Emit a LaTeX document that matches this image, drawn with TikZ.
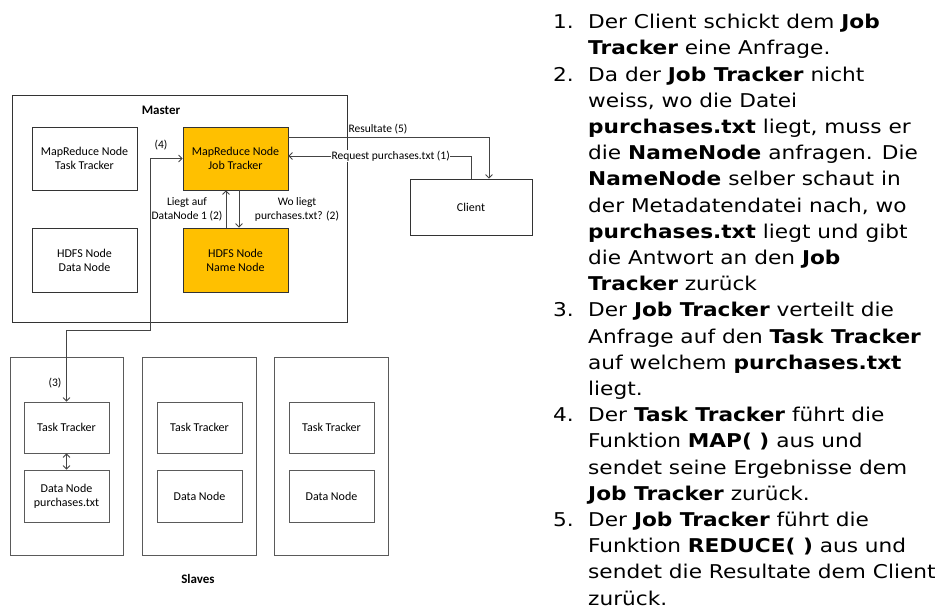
\documentclass[tikz,border=0pt]{standalone}
\usepackage{fontspec}
\newfontfamily\diafont{Carlito}
\newfontfamily\listfont[FakeStretch=1.14]{DejaVu Sans}
\usetikzlibrary{arrows.meta}
\definecolor{orng}{HTML}{FFC000}
\definecolor{edge}{HTML}{333333}
\definecolor{sedge}{HTML}{5A5A5A}
\definecolor{lnk}{HTML}{444444}
\newcommand{\itemno}[1]{\llap{\makebox[35pt][l]{#1}}}
\begin{document}
\begin{tikzpicture}[x=1pt,y=-1pt,
  box/.style={draw=edge, line width=0.8pt, align=center, inner sep=0pt,
    font=\diafont\fontsize{12}{14}\selectfont},
  hot/.style={box, fill=orng},
  slave/.style={draw=sedge, line width=0.8pt, inner sep=0pt},
  sbox/.style={box, draw=sedge},
  lbl/.style={align=center, inner sep=0pt, font=\diafont\fontsize{11.5}{14}\selectfont},
  ttl/.style={inner sep=0pt, font=\diafont\bfseries\fontsize{13}{15}\selectfont},
  arr/.style={draw=lnk, line width=0.8pt, -{Straight Barb[length=3.5pt,width=7pt]}},
  darr/.style={draw=lnk, line width=0.8pt, {Straight Barb[length=3.5pt,width=7pt]}-{Straight Barb[length=3.5pt,width=7pt]}}
]
\useasboundingbox (0,0) rectangle (948,614);
\fill[white] (0,0) rectangle (948,614);

% Master
\node[box, minimum width=335, minimum height=227] (master) at (179.5,208.5) {};
\node[ttl] (mastertitle) at (161,110) {Master};
\node[box, minimum width=105, minimum height=63] (mtt) at (84.5,158.5) {MapReduce Node\\Task Tracker};
\node[box, minimum width=105, minimum height=64] (mdn) at (84.5,260) {HDFS Node\\Data Node};
\node[hot, minimum width=105, minimum height=63] (jt) at (235.5,158.5) {MapReduce Node\\Job Tracker};
\node[hot, minimum width=105, minimum height=64] (nn) at (235.5,260) {HDFS Node\\Name Node};

% Client
\node[box, minimum width=122, minimum height=56] (client) at (471,207) {Client};

% Slaves
\node[slave, minimum width=113, minimum height=198] (s1) at (66.5,456) {};
\node[slave, minimum width=114, minimum height=198] (s2) at (199,456) {};
\node[slave, minimum width=114, minimum height=198] (s3) at (331,456) {};
\node[sbox, minimum width=85, minimum height=51] (tt1) at (66.5,427.5) {Task Tracker};
\node[sbox, minimum width=85, minimum height=52] (dn1) at (66.5,496) {Data Node\\purchases.txt};
\node[sbox, minimum width=85, minimum height=51] (tt2) at (199.5,427.5) {Task Tracker};
\node[sbox, minimum width=85, minimum height=52] (dn2) at (199.5,496) {Data Node};
\node[sbox, minimum width=85, minimum height=51] (tt3) at (331.5,427.5) {Task Tracker};
\node[sbox, minimum width=85, minimum height=52] (dn3) at (331.5,496) {Data Node};
\node[ttl] (slavestitle) at (198,579) {Slaves};

% Connectors
\draw[arr] ([xshift=-9.5pt]nn.north) -- ([xshift=-9.5pt]jt.south);
\draw[arr] ([xshift=3.5pt]jt.south) -- ([xshift=3.5pt]nn.north);
\node[lbl] (lliegt) at (187,209) {Liegt auf\\DataNode 1 (2)};
\node[lbl] (lwo) at (297,209) {Wo liegt\\purchases.txt? (2)};

\draw[arr] ([yshift=21.5pt]jt.east) -| ([xshift=18pt]client.north);
\node[lbl, anchor=base] (lres) at (378,132) {Resultate (5)};
\draw[arr] (client.north) |- node[lbl, fill=white, pos=0.72, inner xsep=0.5pt, inner ysep=1pt] (lreq) {Request purchases.txt (1)} ([yshift=2.5pt]jt.east);

\coordinate (bend) at (150,330);
\draw[darr] (tt1.north) |- (bend) |- (jt.west);
\node[lbl] (l4) at (161,145) {(4)};
\node[lbl] (l3) at (55,383) {(3)};
\draw[darr] (tt1.south) -- (dn1.north);

% Right text
\node[anchor=north west, inner sep=0pt, align=left,
  font=\listfont\fontsize{19}{26.2}\selectfont] (list) at (588,14) {%
\itemno{1.}Der Client schickt dem \textbf{Job}\\
\textbf{Tracker} eine Anfrage.\\
\itemno{2.}Da der \textbf{Job Tracker} nicht\\
weiss, wo die Datei\\
\textbf{purchases.txt} liegt, muss er\\
die \textbf{NameNode} anfragen. Die\\
\textbf{NameNode} selber schaut in\\
der Metadatendatei nach, wo\\
\textbf{purchases.txt} liegt und gibt\\
die Antwort an den \textbf{Job}\\
\textbf{Tracker} zurück\\
\itemno{3.}Der \textbf{Job Tracker} verteilt die\\
Anfrage auf den \textbf{Task Tracker}\\
auf welchem \textbf{purchases.txt}\\
liegt.\\
\itemno{4.}Der \textbf{Task Tracker} führt die\\
Funktion \textbf{MAP( )} aus und\\
sendet seine Ergebnisse dem\\
\textbf{Job Tracker} zurück.\\
\itemno{5.}Der \textbf{Job Tracker} führt die\\
Funktion \textbf{REDUCE( )} aus und\\
sendet die Resultate dem Client\\
zurück.};
\end{tikzpicture}
\end{document}
